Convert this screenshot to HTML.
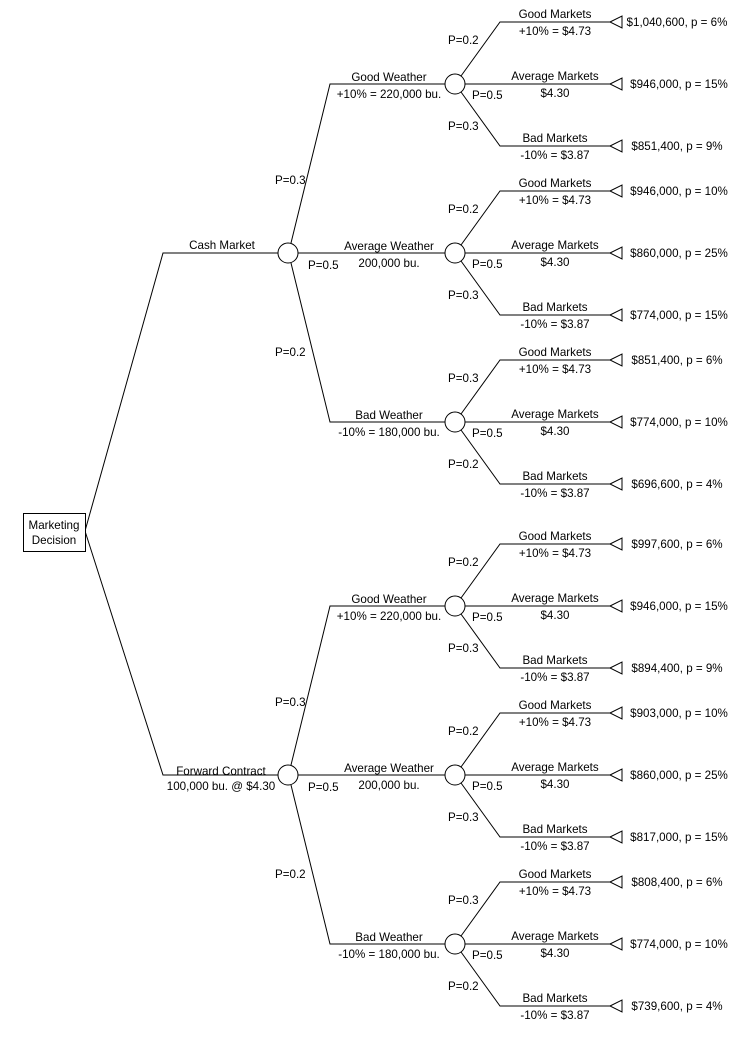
<!DOCTYPE html>
<html><head><meta charset="utf-8"><style>
body{margin:0;background:#fff}
svg{display:block}
text{font-family:"Liberation Sans",Arial,sans-serif;font-size:11.6px;fill:#000}
.m{text-anchor:middle}
line,path,polyline{stroke:#000;stroke-width:1;fill:none}
circle{stroke:#000;stroke-width:1;fill:#fff}
polygon{stroke:#000;stroke-width:1;fill:#fff}
</style></head><body>
<svg width="739" height="1044" viewBox="0 0 739 1044" xmlns="http://www.w3.org/2000/svg">
<path d="M85,531 L163,253 H278"/>
<path d="M85,531 L163,775 H278"/>
<rect x="23.5" y="513.5" width="62" height="38" fill="#fff" stroke="#000"/>
<text class="m" x="54" y="529">Marketing</text>
<text class="m" x="54" y="544">Decision</text>
<text class="m" x="222" y="249">Cash Market</text>
<text class="m" x="221" y="775">Forward Contract</text>
<text class="m" x="221" y="790">100,000 bu. @ $4.30</text>

<path d="M291,243 L330,84 H445"/>
<path d="M298,253 H445"/>
<path d="M291,263 L330,422 H445"/>
<circle cx="288" cy="253" r="10"/>
<text x="275" y="184">P=0.3</text>
<text x="308" y="269">P=0.5</text>
<text x="275" y="356">P=0.2</text>

<path d="M291,765 L330,606 H445"/>
<path d="M298,775 H445"/>
<path d="M291,785 L330,944 H445"/>
<circle cx="288" cy="775" r="10"/>
<text x="275" y="706">P=0.3</text>
<text x="308" y="791">P=0.5</text>
<text x="275" y="878">P=0.2</text>

<text class="m" x="389" y="81">Good Weather</text><text class="m" x="389" y="98">+10% = 220,000 bu.</text>
<text class="m" x="389" y="250">Average Weather</text><text class="m" x="389" y="267">200,000 bu.</text>
<text class="m" x="389" y="419">Bad Weather</text><text class="m" x="389" y="436">-10% = 180,000 bu.</text>
<text class="m" x="389" y="603">Good Weather</text><text class="m" x="389" y="620">+10% = 220,000 bu.</text>
<text class="m" x="389" y="772">Average Weather</text><text class="m" x="389" y="789">200,000 bu.</text>
<text class="m" x="389" y="941">Bad Weather</text><text class="m" x="389" y="958">-10% = 180,000 bu.</text>

<g transform="translate(0,84)">
<path d="M461,-8 L500,-62 H610"/><path d="M465,0 H610"/><path d="M461,8 L500,62 H610"/>
<circle cx="455" cy="0" r="10"/>
<polygon points="610,-62 622,-68 622,-56"/><polygon points="610,0 622,-6 622,6"/><polygon points="610,62 622,56 622,68"/>
<text class="m" x="555" y="-66">Good Markets</text><text class="m" x="555" y="-49">+10% = $4.73</text>
<text class="m" x="555" y="-4">Average Markets</text><text class="m" x="555" y="13">$4.30</text>
<text class="m" x="555" y="58">Bad Markets</text><text class="m" x="555" y="75">-10% = $3.87</text>
<text x="448" y="-40">P=0.2</text><text x="472" y="15">P=0.5</text><text x="448" y="46">P=0.3</text>
<text class="m" x="677" y="-58">$1,040,600, p = 6%</text><text class="m" x="679" y="4">$946,000, p = 15%</text><text class="m" x="677" y="66">$851,400, p = 9%</text>
</g>
<g transform="translate(0,253)">
<path d="M461,-8 L500,-62 H610"/><path d="M465,0 H610"/><path d="M461,8 L500,62 H610"/>
<circle cx="455" cy="0" r="10"/>
<polygon points="610,-62 622,-68 622,-56"/><polygon points="610,0 622,-6 622,6"/><polygon points="610,62 622,56 622,68"/>
<text class="m" x="555" y="-66">Good Markets</text><text class="m" x="555" y="-49">+10% = $4.73</text>
<text class="m" x="555" y="-4">Average Markets</text><text class="m" x="555" y="13">$4.30</text>
<text class="m" x="555" y="58">Bad Markets</text><text class="m" x="555" y="75">-10% = $3.87</text>
<text x="448" y="-40">P=0.2</text><text x="472" y="15">P=0.5</text><text x="448" y="46">P=0.3</text>
<text class="m" x="679" y="-58">$946,000, p = 10%</text><text class="m" x="679" y="4">$860,000, p = 25%</text><text class="m" x="679" y="66">$774,000, p = 15%</text>
</g>
<g transform="translate(0,422)">
<path d="M461,-8 L500,-62 H610"/><path d="M465,0 H610"/><path d="M461,8 L500,62 H610"/>
<circle cx="455" cy="0" r="10"/>
<polygon points="610,-62 622,-68 622,-56"/><polygon points="610,0 622,-6 622,6"/><polygon points="610,62 622,56 622,68"/>
<text class="m" x="555" y="-66">Good Markets</text><text class="m" x="555" y="-49">+10% = $4.73</text>
<text class="m" x="555" y="-4">Average Markets</text><text class="m" x="555" y="13">$4.30</text>
<text class="m" x="555" y="58">Bad Markets</text><text class="m" x="555" y="75">-10% = $3.87</text>
<text x="448" y="-40">P=0.3</text><text x="472" y="15">P=0.5</text><text x="448" y="46">P=0.2</text>
<text class="m" x="677" y="-58">$851,400, p = 6%</text><text class="m" x="679" y="4">$774,000, p = 10%</text><text class="m" x="677" y="66">$696,600, p = 4%</text>
</g>
<g transform="translate(0,606)">
<path d="M461,-8 L500,-62 H610"/><path d="M465,0 H610"/><path d="M461,8 L500,62 H610"/>
<circle cx="455" cy="0" r="10"/>
<polygon points="610,-62 622,-68 622,-56"/><polygon points="610,0 622,-6 622,6"/><polygon points="610,62 622,56 622,68"/>
<text class="m" x="555" y="-66">Good Markets</text><text class="m" x="555" y="-49">+10% = $4.73</text>
<text class="m" x="555" y="-4">Average Markets</text><text class="m" x="555" y="13">$4.30</text>
<text class="m" x="555" y="58">Bad Markets</text><text class="m" x="555" y="75">-10% = $3.87</text>
<text x="448" y="-40">P=0.2</text><text x="472" y="15">P=0.5</text><text x="448" y="46">P=0.3</text>
<text class="m" x="677" y="-58">$997,600, p = 6%</text><text class="m" x="679" y="4">$946,000, p = 15%</text><text class="m" x="677" y="66">$894,400, p = 9%</text>
</g>
<g transform="translate(0,775)">
<path d="M461,-8 L500,-62 H610"/><path d="M465,0 H610"/><path d="M461,8 L500,62 H610"/>
<circle cx="455" cy="0" r="10"/>
<polygon points="610,-62 622,-68 622,-56"/><polygon points="610,0 622,-6 622,6"/><polygon points="610,62 622,56 622,68"/>
<text class="m" x="555" y="-66">Good Markets</text><text class="m" x="555" y="-49">+10% = $4.73</text>
<text class="m" x="555" y="-4">Average Markets</text><text class="m" x="555" y="13">$4.30</text>
<text class="m" x="555" y="58">Bad Markets</text><text class="m" x="555" y="75">-10% = $3.87</text>
<text x="448" y="-40">P=0.2</text><text x="472" y="15">P=0.5</text><text x="448" y="46">P=0.3</text>
<text class="m" x="679" y="-58">$903,000, p = 10%</text><text class="m" x="679" y="4">$860,000, p = 25%</text><text class="m" x="679" y="66">$817,000, p = 15%</text>
</g>
<g transform="translate(0,944)">
<path d="M461,-8 L500,-62 H610"/><path d="M465,0 H610"/><path d="M461,8 L500,62 H610"/>
<circle cx="455" cy="0" r="10"/>
<polygon points="610,-62 622,-68 622,-56"/><polygon points="610,0 622,-6 622,6"/><polygon points="610,62 622,56 622,68"/>
<text class="m" x="555" y="-66">Good Markets</text><text class="m" x="555" y="-49">+10% = $4.73</text>
<text class="m" x="555" y="-4">Average Markets</text><text class="m" x="555" y="13">$4.30</text>
<text class="m" x="555" y="58">Bad Markets</text><text class="m" x="555" y="75">-10% = $3.87</text>
<text x="448" y="-40">P=0.3</text><text x="472" y="15">P=0.5</text><text x="448" y="46">P=0.2</text>
<text class="m" x="677" y="-58">$808,400, p = 6%</text><text class="m" x="679" y="4">$774,000, p = 10%</text><text class="m" x="677" y="66">$739,600, p = 4%</text>
</g>
</svg>
</body></html>
